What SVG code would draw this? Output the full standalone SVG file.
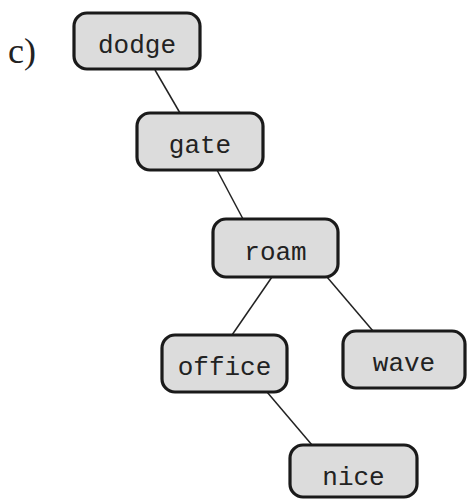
<svg xmlns="http://www.w3.org/2000/svg" width="467" height="500" viewBox="0 0 467 500">
<style>
.n rect{fill:#dcdcdc;stroke:#1a1a1a;stroke-width:3.2}
.n text{font-family:"Liberation Mono","Courier New",monospace;font-size:26px;fill:#222;text-anchor:middle}
.e line{stroke:#222;stroke-width:1.5}
</style>
<rect width="467" height="500" fill="#fff"/>
<text x="8" y="63" font-family="Liberation Serif,Times New Roman,serif" font-size="36" fill="#222">c)</text>
<g class="e" id="edges">
<line x1="155" y1="70" x2="180" y2="113"/>
<line x1="217" y1="170" x2="243" y2="219"/>
<line x1="272" y1="277" x2="232" y2="335"/>
<line x1="327" y1="277" x2="373" y2="331"/>
<line x1="267" y1="392" x2="312" y2="445"/>
</g>
<g class="n" id="dodge"><rect x="74" y="13" width="126" height="56" rx="13"/><text x="137" y="53">dodge</text></g>
<g class="n" id="gate"><rect x="137" y="113" width="126" height="57" rx="13"/><text x="200" y="153">gate</text></g>
<g class="n" id="roam"><rect x="213" y="219" width="125" height="58" rx="13"/><text x="275.5" y="260">roam</text></g>
<g class="n" id="office"><rect x="162" y="335" width="125" height="57" rx="13"/><text x="224.5" y="375">office</text></g>
<g class="n" id="wave"><rect x="343" y="331" width="122" height="57" rx="13"/><text x="404" y="371">wave</text></g>
<g class="n" id="nice"><rect x="290" y="445" width="127" height="52" rx="13"/><text x="353.5" y="485">nice</text></g>
</svg>
